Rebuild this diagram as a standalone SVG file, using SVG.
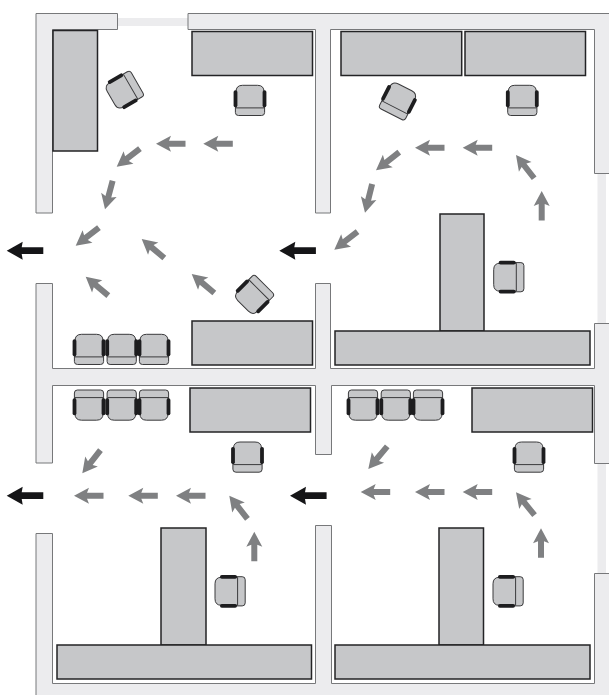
<svg xmlns="http://www.w3.org/2000/svg" width="609" height="695" viewBox="0 0 609 695">
<style>
.wall{fill:#ececee;stroke:#77787a;stroke-width:1}
.band{fill:#ececee;stroke:none}
.desk{fill:#c6c7c9;stroke:#232325;stroke-width:1.500}
.seat{fill:#c6c7c9;stroke:#3a3a3c;stroke-width:1}
.arm{fill:#1d1d1f;stroke:none}
.ga{fill:#7f8082;stroke:none}
.ba{fill:#151517;stroke:none}
</style>
<defs>
<g id="chair">
<rect class="seat" x="-14.6" y="0" width="29.2" height="15.2" rx="3"/>
<path class="seat" d="M-14 7.6V-8.5Q-14-15-7.5-15H7.5Q14-15 14-8.5V7.6Z"/>
<rect class="arm" x="-16.4" y="-10" width="3.800" height="17" rx="1.800"/>
<rect class="arm" x="12.6" y="-10" width="3.800" height="17" rx="1.800"/>
</g>
<polygon id="arrow" class="ga" points="0,0 15,-8 13,-3 29.5,-3 29.5,3 13,3 15,8"/>
<polygon id="exit" class="ba" points="0,0 16,-9 15,-3.4 36.6,-3.4 36.6,3.4 15,3.4 16,9"/>
</defs>
<rect width="609" height="695" fill="#ffffff"/>
<g id="walls">
<rect class="band" x="118" y="18" width="70" height="8"/>
<rect class="band" x="597.5" y="173" width="8.5" height="150"/>
<rect class="band" x="597.5" y="463" width="8.5" height="110"/>
<path class="wall" d="M36 13.500H117.500V29.500H52.500V213H36Z"/>
<path class="wall" d="M188 13.500H609.500V173.500H594.500V29.500H330.500V213H315.500V29.500H188Z"/>
<path class="wall" d="M36 283.500H52.500V368.500H315.500V283.500H330.500V368.500H594.500V323.500H609.500V463.500H594.500V385.500H331.500V454.500H315.500V385.500H52.500V463H36Z"/>
<path class="wall" d="M36 533.500H52.500V683.500H315.500V525.500H331.500V683.500H594.500V573.500H609.500V696H36Z"/>
</g>
<g id="desks">
<rect class="desk" x="53" y="30.500" width="44.500" height="120.500"/>
<rect class="desk" x="192" y="31.500" width="120.500" height="44"/>
<rect class="desk" x="341" y="31.500" width="120.700" height="44"/>
<rect class="desk" x="465" y="31.500" width="120.500" height="44"/>
<rect class="desk" x="440" y="214" width="44" height="117"/>
<rect class="desk" x="335" y="331" width="255" height="34"/>
<rect class="desk" x="192" y="321" width="120.500" height="44"/>
<rect class="desk" x="190" y="388" width="120.500" height="44"/>
<rect class="desk" x="472" y="388" width="120.500" height="44"/>
<rect class="desk" x="161" y="528" width="45" height="117"/>
<rect class="desk" x="57" y="645" width="254.500" height="34"/>
<rect class="desk" x="439" y="528" width="44.500" height="117"/>
<rect class="desk" x="335" y="645" width="255" height="34"/>
</g>
<g id="chairs">
<use href="#chair" transform="translate(124 90.500) rotate(-120)"/>
<use href="#chair" transform="translate(250 100.300)"/>
<use href="#chair" transform="translate(398.300 100.700) rotate(27)"/>
<use href="#chair" transform="translate(522.300 100.300)"/>
<use href="#chair" transform="translate(508.700 277.200) rotate(-90)"/>
<use href="#chair" transform="translate(253.700 295.300) rotate(-135)"/>
<use href="#chair" transform="translate(89 349.300)"/>
<use href="#chair" transform="translate(121.700 349.300)"/>
<use href="#chair" transform="translate(154 349.300)"/>
<use href="#chair" transform="translate(89 405.200) rotate(180)"/>
<use href="#chair" transform="translate(121.700 405.200) rotate(180)"/>
<use href="#chair" transform="translate(154 405.200) rotate(180)"/>
<use href="#chair" transform="translate(363 405.200) rotate(180)"/>
<use href="#chair" transform="translate(395.800 405.200) rotate(180)"/>
<use href="#chair" transform="translate(428 405.200) rotate(180)"/>
<use href="#chair" transform="translate(247.500 457)"/>
<use href="#chair" transform="translate(529 457)"/>
<use href="#chair" transform="translate(230 591.300) rotate(-90)"/>
<use href="#chair" transform="translate(508 591.300) rotate(-90)"/>
</g>
<g id="connectors">
<use href="#arrow" transform="translate(203.300 143.700)"/>
<use href="#arrow" transform="translate(156 143.700)"/>
<use href="#arrow" transform="translate(116.700 166.700) rotate(-38)"/>
<use href="#arrow" transform="translate(105 209.300) rotate(-75)"/>
<use href="#arrow" transform="translate(75.700 245.700) rotate(-38)"/>
<use href="#arrow" transform="translate(141.700 239) rotate(40)"/>
<use href="#arrow" transform="translate(85.700 276.700) rotate(40)"/>
<use href="#arrow" transform="translate(191.700 274) rotate(40)"/>
<use href="#arrow" transform="translate(541.700 191) rotate(90)"/>
<use href="#arrow" transform="translate(516 155) rotate(52)"/>
<use href="#arrow" transform="translate(462.700 147.700)"/>
<use href="#arrow" transform="translate(415 147.700)"/>
<use href="#arrow" transform="translate(376 170.300) rotate(-38)"/>
<use href="#arrow" transform="translate(365 212.700) rotate(-76)"/>
<use href="#arrow" transform="translate(334.300 249.700) rotate(-38)"/>
<use href="#arrow" transform="translate(254.300 531.700) rotate(90)"/>
<use href="#arrow" transform="translate(229.300 495.700) rotate(52)"/>
<use href="#arrow" transform="translate(176 495.700)"/>
<use href="#arrow" transform="translate(128.300 495.700)"/>
<use href="#arrow" transform="translate(74 495.700)"/>
<use href="#arrow" transform="translate(82.300 473.300) rotate(-52)"/>
<use href="#arrow" transform="translate(541 528.300) rotate(90)"/>
<use href="#arrow" transform="translate(516 492.300) rotate(51)"/>
<use href="#arrow" transform="translate(462.700 492)"/>
<use href="#arrow" transform="translate(415 492)"/>
<use href="#arrow" transform="translate(360.700 492)"/>
<use href="#arrow" transform="translate(368.300 469) rotate(-50)"/>
<use href="#exit" transform="translate(6.700 250.700)"/>
<use href="#exit" transform="translate(279.300 250.700)"/>
<use href="#exit" transform="translate(6.700 495.700)"/>
<use href="#exit" transform="translate(290 495.700)"/>
</g>
</svg>
